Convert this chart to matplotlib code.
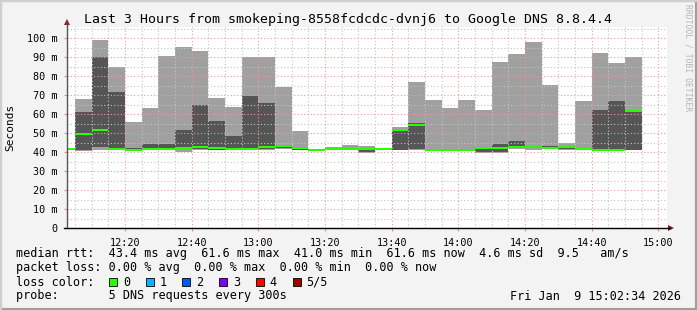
import numpy as np
import matplotlib
matplotlib.use("Agg")
import matplotlib.pyplot as plt
from matplotlib.lines import Line2D
from matplotlib.patches import Rectangle, Polygon

W, H = 697, 310
MONO = "DejaVu Sans Mono"

# x in minutes after 12:00, one bar per 5 minute step
t_start = 2 + 34 / 60          # 12:02:34
t_end = t_start + 180          # 15:02:34
first_partial_median = 41.6    # step ending 12:05, median only
bar_start = 5 + 5 * np.arange(34)

# ping smoke (ms): min, 2nd, median, 4th, max
ping_max = [67.9, 98.9, 84.9, 55.8, 63.3, 90.5, 95.4, 93.2, 68.2, 63.5, 90.0, 90.0,
            74.2, 51.0, 41.3, 42.6, 43.7, 43.2, 41.6, 53.3, 76.8, 67.4, 63.2, 67.4,
            62.1, 87.4, 91.6, 97.9, 75.3, 44.6, 66.8, 92.1, 86.8, 90.0]
ping_p4 = [61.0, 89.8, 71.6, 42.2, 44.2, 44.2, 51.6, 64.7, 56.5, 48.4, 69.5, 65.8,
           43.3, 42.1, 41.2, 41.6, 42.2, 41.6, 41.5, 52.3, 55.1, 41.2, 41.2, 41.2,
           42.0, 44.2, 45.8, 43.0, 43.2, 42.9, 42.0, 62.1, 66.8, 62.1]
ping_med = [49.5, 51.6, 41.8, 41.0, 41.8, 41.8, 42.3, 42.8, 41.9, 41.4, 41.4, 42.5,
            43.0, 41.9, 41.0, 41.4, 41.9, 41.4, 41.4, 51.8, 54.2, 41.0, 41.0, 41.0,
            41.9, 41.9, 42.8, 42.8, 42.3, 42.8, 41.8, 41.0, 41.0, 61.6]
ping_p2 = [41.0, 42.8, 41.2, 40.8, 41.3, 41.3, 41.4, 41.5, 41.2, 41.0, 41.0, 41.5,
           42.0, 41.0, 40.9, 41.2, 41.6, 39.8, 41.3, 41.2, 41.4, 40.9, 40.9, 40.9,
           39.8, 39.8, 42.0, 42.0, 41.8, 41.6, 41.5, 40.7, 40.8, 41.2]
ping_min = [40.7, 41.0, 41.0, 40.6, 41.0, 40.8, 40.2, 41.0, 40.9, 40.8, 40.8, 41.2,
            41.5, 40.9, 40.8, 41.0, 41.3, 39.6, 41.2, 41.0, 41.0, 40.8, 40.8, 40.8,
            39.6, 39.6, 41.5, 40.8, 41.5, 41.2, 41.3, 40.5, 40.6, 41.0]

x_ticks = [20, 40, 60, 80, 100, 120, 140, 160, 180]
x_labels = ["12:20", "12:40", "13:00", "13:20", "13:40", "14:00", "14:20", "14:40", "15:00"]
y_ticks = [0, 10, 20, 30, 40, 50, 60, 70, 80, 90, 100]
y_labels = ["0"] + [f"{v} m" for v in y_ticks[1:]]

title = "Last 3 Hours from smokeping-8558fcdcdc-dvnj6 to Google DNS 8.8.4.4"
rtt_row = "median rtt:  43.4 ms avg  61.6 ms max  41.0 ms min  61.6 ms now  4.6 ms sd  9.5   am/s"
loss_row = "packet loss: 0.00 % avg  0.00 % max  0.00 % min  0.00 % now"
probe_row = "probe:       5 DNS requests every 300s"
stamp = "Fri Jan  9 15:02:34 2026"
loss_labels = ["0", "1", "2", "3", "4", "5/5"]
loss_colors = ["#26ff00", "#00b8ff", "#0059ff", "#7e00ff", "#ff0000", "#a10000"]


def fx(x):
    return x / W


def fy(y):
    return 1 - y / H


fig = plt.figure(figsize=(W / 100, H / 100), dpi=100, facecolor="#f3f3f3")

# 3d-ish frame
fig.add_artist(Rectangle((0, 0), 1, 1, transform=fig.transFigure, fill=False,
                         edgecolor="#9e9e9e", lw=3))
fig.add_artist(Line2D([0, 1], [fy(0.5), fy(0.5)], transform=fig.transFigure, color="#cfcfcf", lw=1.5))
fig.add_artist(Line2D([fx(0.5), fx(0.5)], [0, 1], transform=fig.transFigure, color="#cfcfcf", lw=1.5))

L, R, T, B = 67, 667, 27, 228
ax = fig.add_axes([fx(L), fy(B), fx(R) - fx(L), fy(T) - fy(B)])
ax.set_facecolor("white")
ax.set_xlim(t_start, t_end)
ax.set_ylim(0, (B - T) / 1.9)

pmin = np.array(ping_min)
pmax = np.array(ping_max)
p2 = np.array(ping_p2)
p4 = np.array(ping_p4)
med = np.array(ping_med)

ax.bar(bar_start, pmax - pmin, bottom=pmin, width=5, align="edge", color="#a0a0a0", lw=0, zorder=1)
ax.bar(bar_start, p4 - p2, bottom=p2, width=5, align="edge", color="#555555", lw=0, zorder=1.2)
ax.bar(bar_start, 1.05, bottom=med - 0.5, width=5, align="edge", color="#26ff00", lw=0, zorder=3)
ax.bar([t_start], 1.05, bottom=first_partial_median - 0.5, width=5 - t_start, align="edge",
       color="#26ff00", lw=0, zorder=3)

ax.set_xticks(x_ticks)
ax.set_xticklabels(x_labels, fontfamily=MONO, fontsize=7.3)
ax.set_xticks(np.arange(5, 181, 5), minor=True)
ax.set_yticks(y_ticks)
ax.set_yticklabels(y_labels, fontfamily=MONO, fontsize=7.3)
ax.set_yticks(np.arange(5, 106, 5), minor=True)
ax.tick_params(which="major", length=2, color="#ff8080", pad=5)
ax.tick_params(which="minor", length=0)
ax.set_axisbelow(False)
ax.grid(which="minor", color="#c4c4c4", linestyle=(0, (1, 2)), lw=0.8, zorder=2)
ax.grid(which="major", color="#f09a9a", linestyle=(0, (1, 2)), lw=0.8, zorder=2.1)
for s in ax.spines.values():
    s.set_visible(False)

# axes with arrows
fig.add_artist(Line2D([fx(L), fx(L)], [fy(B), fy(22)], transform=fig.transFigure, color="#555555", lw=1))
fig.add_artist(Line2D([fx(L - 3), fx(670)], [fy(B), fy(B)], transform=fig.transFigure, color="black", lw=1))
fig.add_artist(Polygon([[fx(L - 3), fy(25)], [fx(L + 3), fy(25)], [fx(L), fy(19)]],
                       transform=fig.transFigure, color="#8b1a1a", lw=0))
fig.add_artist(Polygon([[fx(668), fy(B - 3)], [fx(668), fy(B + 3)], [fx(674), fy(B)]],
                       transform=fig.transFigure, color="#8b1a1a", lw=0))

fig.text(fx(348), fy(19), title, ha="center", va="center", fontfamily=MONO, fontsize=9.5)
fig.text(fx(10), fy(127), "Seconds", ha="center", va="center", rotation=90,
         fontfamily=MONO, fontsize=8)
fig.text(fx(688), fy(4), "RRDTOOL / TOBI OETIKER", ha="center", va="top", rotation=270,
         fontfamily=MONO, fontsize=5.8, color="#b4b4b4")

fs = 8.5
fig.text(fx(16), fy(254), rtt_row, ha="left", va="center", fontfamily=MONO, fontsize=fs)
fig.text(fx(16), fy(268), loss_row, ha="left", va="center", fontfamily=MONO, fontsize=fs)
fig.text(fx(16), fy(282), "loss color:", ha="left", va="center", fontfamily=MONO, fontsize=fs)
for i, (lab, col) in enumerate(zip(loss_labels, loss_colors)):
    sx = 109 + i * 36.7
    fig.add_artist(Rectangle((fx(sx), fy(286)), fx(8), 8 / H, transform=fig.transFigure,
                             facecolor=col, edgecolor="black", lw=0.6))
    fig.text(fx(sx + 14), fy(282), lab, ha="left", va="center", fontfamily=MONO, fontsize=fs)
fig.text(fx(16), fy(296), probe_row, ha="left", va="center", fontfamily=MONO, fontsize=fs)
fig.text(fx(681), fy(296), stamp, ha="right", va="center", fontfamily=MONO, fontsize=fs)

fig.savefig("out.png", dpi=100, facecolor=fig.get_facecolor())
